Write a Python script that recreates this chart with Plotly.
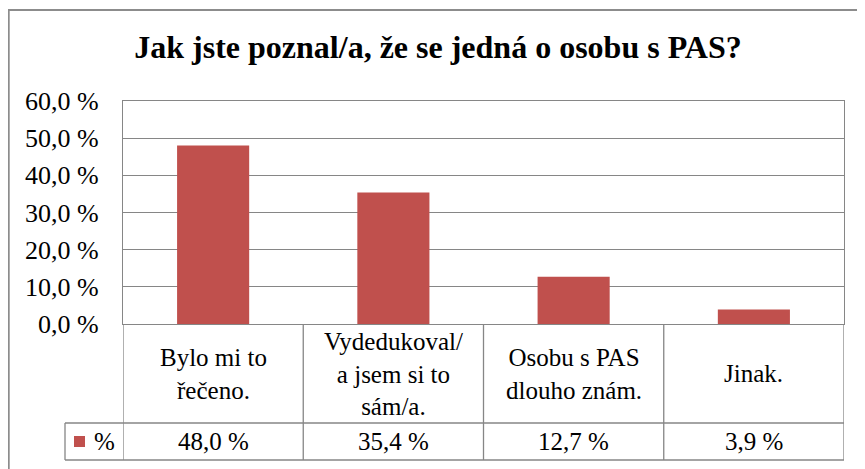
import plotly.graph_objects as go

categories = ["Bylo mi to<br>řečeno.", "Vydedukoval/<br>a jsem si to<br>sám/a.", "Osobu s PAS<br>dlouho znám.", "Jinak."]
values = [48.0, 35.4, 12.7, 3.9]
series_name = "%"
tick_vals = [0, 10, 20, 30, 40, 50, 60]
tick_text = ["0,0 %", "10,0 %", "20,0 %", "30,0 %", "40,0 %", "50,0 %", "60,0 %"]
title = "Jak jste poznal/a, že se jedná o osobu s PAS?"

BAR = "#C0504D"
GRID = "#868686"
BORDER = "#8C8C8C"
FONT = "Liberation Serif"
FS = 25

OFF = 8  # page body margin
W, H = 865 - OFF, 469 - OFF
L, R, T, B = 123 - OFF, 844 - OFF, 101 - OFF, 324 - OFF
ph = B - T
pw = R - L

def py(pix):
    return (B - (pix - OFF)) / ph

def px(pix):
    return ((pix - OFF) - L) / pw

xs = list(range(len(categories)))

fig = go.Figure()
fig.add_trace(go.Bar(x=xs, y=values, marker=dict(color=BAR, line=dict(width=0)), name=series_name, showlegend=False))

shapes = []
row1 = py(423)
row2 = py(460)
line = dict(color=GRID, width=1.3)
for i in range(len(categories) + 1):
    shapes.append(dict(type="line", xref="x", yref="paper", x0=i - 0.5, x1=i - 0.5, y0=0, y1=row2, line=line))
shapes.append(dict(type="line", xref="x", yref="paper", x0=-0.5, x1=len(categories) - 0.5, y0=row1, y1=row1, line=line))
shapes.append(dict(type="line", xref="x", yref="paper", x0=-0.5, x1=len(categories) - 0.5, y0=row2, y1=row2, line=line))
shapes.append(dict(type="line", xref="paper", yref="paper", x0=px(65), x1=0, y0=row1, y1=row1, line=line))
shapes.append(dict(type="line", xref="paper", yref="paper", x0=px(65), x1=0, y0=row2, y1=row2, line=line))
shapes.append(dict(type="line", xref="paper", yref="paper", x0=px(65), x1=px(65), y0=row1, y1=row2, line=line))
shapes.append(dict(type="rect", xref="paper", yref="paper", x0=px(74), x1=px(85), y0=py(447), y1=py(436), fillcolor=BAR, line=dict(width=0)))
# outer chart border (top and left visible)
shapes.append(dict(type="rect", xref="paper", yref="paper", x0=px(OFF + 0.8), x1=px(900), y0=py(10), y1=py(520),
                   line=dict(color=BORDER, width=1.8)))

annotations = []
mid1 = py((324 + 423) / 2)
mid2 = py((423 + 460) / 2)
for i, (c, v) in enumerate(zip(categories, values)):
    annotations.append(dict(x=i, y=mid1, xref="x", yref="paper", text=c, showarrow=False,
                            font=dict(family=FONT, size=FS, color="#000"), align="center", yanchor="middle"))
    annotations.append(dict(x=i, y=mid2, xref="x", yref="paper", text=f"{v:.1f} %".replace(".", ","), showarrow=False,
                            font=dict(family=FONT, size=FS, color="#000"), yanchor="middle"))
annotations.append(dict(x=px(92), y=mid2, xref="paper", yref="paper", text=series_name, showarrow=False, xanchor="left",
                        font=dict(family=FONT, size=FS, color="#000"), yanchor="middle"))

fig.update_layout(
    width=W, height=H,
    margin=dict(l=L, r=W - R, t=T, b=H - B, pad=0),
    paper_bgcolor="white", plot_bgcolor="white",
    bargap=0.6,
    font=dict(family=FONT),
    title=dict(text=f"<b>{title}</b>", x=(438 - OFF) / W, xref="container", xanchor="center",
               y=1 - (47 - OFF) / H, yref="container", yanchor="middle",
               font=dict(family=FONT, size=32, color="#000")),
    xaxis=dict(range=[-0.5, len(categories) - 0.5], showticklabels=False, showgrid=False, zeroline=False,
               showline=True, linecolor=GRID, linewidth=1.3, mirror=True, ticks=""),
    yaxis=dict(range=[0, 60], tickvals=tick_vals, ticktext=tick_text, showgrid=True, gridcolor=GRID, gridwidth=1.3,
               zeroline=False, showline=True, linecolor=GRID, linewidth=1.3, mirror=True, ticks="",
               ticklabelstandoff=18, tickfont=dict(family=FONT, size=26, color="#000")),
    shapes=shapes, annotations=annotations,
)

fig.write_html("out.html")
